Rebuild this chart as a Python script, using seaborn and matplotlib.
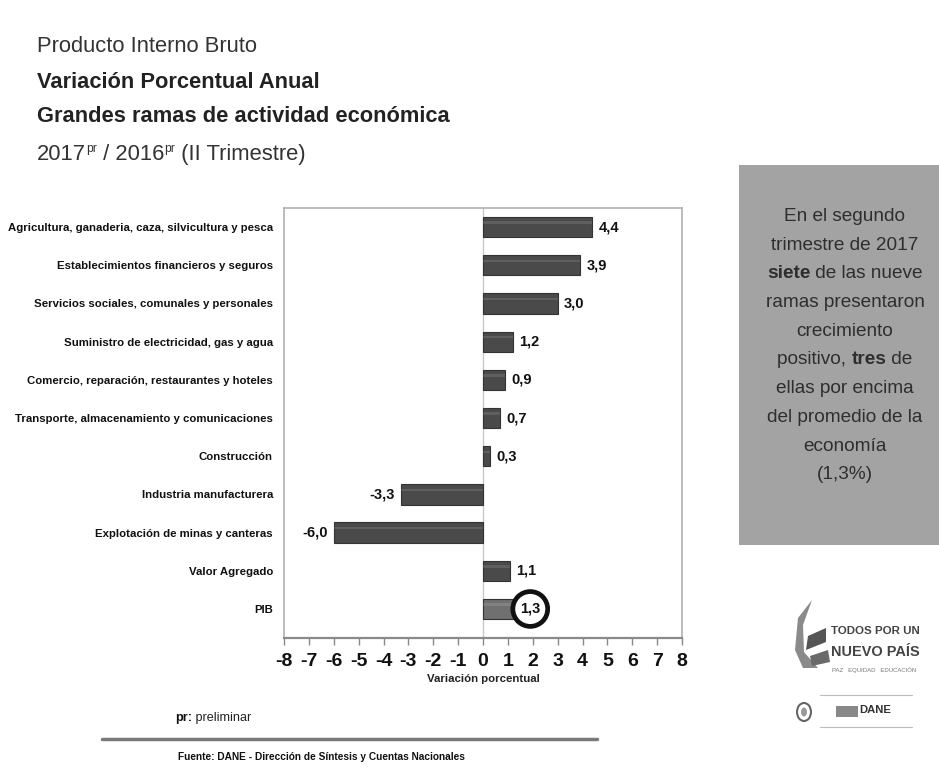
import matplotlib
matplotlib.use("Agg")
import matplotlib.pyplot as plt
from matplotlib.patches import Rectangle, Ellipse, Polygon
import seaborn as sns
import pandas as pd

# ---- data -------------------------------------------------------------
categories = [
    "Agricultura, ganaderia, caza, silvicultura y pesca",
    "Establecimientos financieros y seguros",
    "Servicios sociales, comunales y personales",
    "Suministro de electricidad, gas y agua",
    "Comercio, reparación, restaurantes y hoteles",
    "Transporte, almacenamiento y comunicaciones",
    "Construcción",
    "Industria manufacturera",
    "Explotación de minas y canteras",
    "Valor Agregado",
    "PIB",
]
values = [4.4, 3.9, 3.0, 1.2, 0.9, 0.7, 0.3, -3.3, -6.0, 1.1, 1.3]
x_ticks = list(range(-8, 9))

# ---- style ------------------------------------------------------------
sns.set_theme(style="white")
plt.rcParams["font.family"] = ["Liberation Sans", "DejaVu Sans"]

fig = plt.figure(figsize=(9.39, 7.74), dpi=100)
fig.patch.set_facecolor("white")
renderer = fig.canvas.get_renderer()

W, H = 939, 774
def fx(px):
    return px / W
def fy(py):
    return 1 - py / H

def fit_size(s, width_px, weight="normal", start=12.0):
    """Font size at which a string spans the given pixel width."""
    t = fig.text(0, 0, s, fontsize=start, fontweight=weight)
    w = t.get_window_extent(renderer).width
    t.remove()
    return start * width_px / w

# ---- bar chart --------------------------------------------------------
ax = fig.add_axes([fx(284), fy(638), fx(682) - fx(284), fy(208) - fy(638)])
df = pd.DataFrame({"rama": categories, "variacion": values})
palette = {c: "#4a4a4a" for c in categories}
palette["PIB"] = "#707070"
sns.barplot(data=df, y="rama", x="variacion", hue="rama", palette=palette,
            orient="h", width=0.53, legend=False, ax=ax,
            edgecolor="#333333", linewidth=0.8, saturation=1)

ylab_size = fit_size(categories[0], 262, "bold")
ax.set_xlim(-8, 8)
ax.set_ylim(10.76, -0.5)
ax.set_xticks(x_ticks)
ax.set_xticklabels([str(t) for t in x_ticks], fontsize=14, fontweight="bold",
                   color="#111111")
ax.set_xlabel("Variación porcentual",
              fontsize=fit_size("Variación porcentual", 112, "bold"),
              fontweight="bold", color="#222222", labelpad=3)
ax.set_ylabel("")
ax.tick_params(axis="x", direction="out", length=5, width=1, color="#888888",
               pad=6, bottom=True)
ax.tick_params(axis="y", length=0, pad=8, labelsize=ylab_size,
               labelcolor="#111111")
for lbl in ax.get_yticklabels():
    lbl.set_fontweight("bold")
for side in ("top", "left", "right"):
    ax.spines[side].set_color("#b0b0b0")
    ax.spines[side].set_linewidth(1.2)
ax.spines["bottom"].set_color("#8a8a8a")
ax.spines["bottom"].set_linewidth(1.6)
ax.axvline(0, color="#c8c8c8", lw=1, zorder=0)

# highlight band on each bar for a raised look
for patch, v in zip(ax.patches, values):
    y0 = patch.get_y()
    h = patch.get_height()
    ax.add_patch(Rectangle((min(0, v), y0 + h * 0.22), abs(v), h * 0.12,
                           facecolor="white", alpha=0.12, lw=0, zorder=3))

# value labels
for i, v in enumerate(values):
    txt = f"{v:.1f}".replace(".", ",")
    if categories[i] == "PIB":
        ax.text(1.9, i, txt, ha="center", va="center", fontsize=10.5,
                fontweight="bold", color="#111111", zorder=6,
                bbox=dict(boxstyle="circle,pad=0.5", fc="white",
                          ec="#111111", lw=3.4))
    elif v >= 0:
        ax.text(v + 0.25, i, txt, ha="left", va="center", fontsize=10.5,
                fontweight="bold", color="#111111")
    else:
        ax.text(v - 0.25, i, txt, ha="right", va="center", fontsize=10.5,
                fontweight="bold", color="#111111")

# ---- titles -----------------------------------------------------------
bold_title = fit_size("Grandes ramas de actividad económica", 410, "bold")
reg_title = fit_size("Producto Interno Bruto", 222)
fig.text(fx(37), fy(47), "Producto Interno Bruto", fontsize=reg_title,
         color="#333333", va="center")
fig.text(fx(37), fy(82), "Variación Porcentual Anual", fontsize=bold_title,
         fontweight="bold", color="#222222", va="center")
fig.text(fx(37), fy(117), "Grandes ramas de actividad económica",
         fontsize=bold_title, fontweight="bold", color="#222222", va="center")

pieces = [("2017", reg_title, 0), ("pr", reg_title * 0.55, 8),
          (" / 2016", reg_title, 0), ("pr", reg_title * 0.55, 8),
          (" (II Trimestre)", reg_title, 0)]
x = 37
for s, size, dy in pieces:
    t = fig.text(fx(x), fy(160 - dy), s, fontsize=size, color="#333333",
                 va="baseline")
    x += t.get_window_extent(renderer).width

# ---- side note box ----------------------------------------------------
fig.patches.append(Rectangle((fx(739), fy(545)), fx(939) - fx(739),
                             fy(165) - fy(545), transform=fig.transFigure,
                             facecolor="#a3a3a3", edgecolor="none", zorder=0))
note_size = fit_size("ramas presentaron", 160)
note_lines = [
    [("En el segundo", False)],
    [("trimestre de 2017", False)],
    [("siete", True), (" de las nueve", False)],
    [("ramas presentaron", False)],
    [("crecimiento", False)],
    [("positivo, ", False), ("tres", True), (" de", False)],
    [("ellas por encima", False)],
    [("del promedio de la", False)],
    [("economía", False)],
    [("(1,3%)", False)],
]
y = 221
for line in note_lines:
    ts = [fig.text(0, 0, s, fontsize=note_size, color="#2e2e2e",
                   va="baseline", fontweight="bold" if b else "normal",
                   zorder=2)
          for s, b in line]
    ws = [t.get_window_extent(renderer).width for t in ts]
    x = 845 - sum(ws) / 2
    for t, w in zip(ts, ws):
        t.set_position((fx(x), fy(y)))
        x += w
    y += 28.7

# ---- footer -----------------------------------------------------------
pr_size = fit_size("pr: preliminar", 74)
x = 175
for s, wgt, col in [("pr:", "bold", "#111111"),
                    (" preliminar", "normal", "#222222")]:
    t = fig.text(fx(x), fy(721), s, fontsize=pr_size, fontweight=wgt,
                 color=col)
    x += t.get_window_extent(renderer).width
fig.add_artist(plt.Line2D([fx(102), fx(597)], [fy(739), fy(739)],
                          color="#7a7a7a", lw=2.5))
src = "Fuente: DANE - Dirección de Síntesis y Cuentas Nacionales"
fig.text(fx(321), fy(757), src, fontsize=fit_size(src, 285, "bold"),
         fontweight="bold", color="#111111", ha="center", va="center")

# ---- logos ------------------------------------------------------------
leaf1 = Polygon([(fx(812), fy(600)), (fx(798), fy(618)), (fx(795), fy(650)),
                 (fx(803), fy(668)), (fx(818), fy(668)), (fx(804), fy(652)),
                 (fx(803), fy(625))], closed=True, transform=fig.transFigure,
                facecolor="#8a8a8a", edgecolor="none")
leaf2 = Polygon([(fx(826), fy(628)), (fx(808), fy(636)), (fx(806), fy(650)),
                 (fx(826), fy(642))], closed=True, transform=fig.transFigure,
                facecolor="#555555", edgecolor="none")
leaf3 = Polygon([(fx(828), fy(650)), (fx(810), fy(656)), (fx(812), fy(666)),
                 (fx(830), fy(662))], closed=True, transform=fig.transFigure,
                facecolor="#6a6a6a", edgecolor="none")
for p in (leaf1, leaf2, leaf3):
    fig.patches.append(p)
fig.text(fx(831), fy(631), "TODOS POR UN",
         fontsize=fit_size("TODOS POR UN", 88, "bold"), fontweight="bold",
         color="#444444", va="center")
fig.text(fx(831), fy(652), "NUEVO PAÍS",
         fontsize=fit_size("NUEVO PAÍS", 88, "bold"), fontweight="bold",
         color="#444444", va="center")
fig.text(fx(832), fy(670), "PAZ   EQUIDAD   EDUCACIÓN",
         fontsize=fit_size("PAZ   EQUIDAD   EDUCACIÓN", 84), color="#777777",
         va="center")
fig.add_artist(plt.Line2D([fx(820), fx(912)], [fy(695), fy(695)],
                          color="#bbbbbb", lw=0.8))
fig.add_artist(plt.Line2D([fx(820), fx(912)], [fy(727), fy(727)],
                          color="#bbbbbb", lw=0.8))
fig.patches.append(Ellipse((fx(804), fy(712)), fx(14), 18 / H,
                           transform=fig.transFigure, facecolor="white",
                           edgecolor="#666666", lw=1.5))
fig.patches.append(Ellipse((fx(804), fy(712)), fx(6), 9 / H,
                           transform=fig.transFigure, facecolor="#999999",
                           edgecolor="none"))
fig.patches.append(Rectangle((fx(836), fy(717)), fx(22), 11 / H,
                             transform=fig.transFigure, facecolor="#888888",
                             edgecolor="none"))
fig.text(fx(859), fy(710), "DANE", fontsize=fit_size("DANE", 32, "bold"),
         fontweight="bold", color="#333333", va="center")

fig.savefig("out.png", dpi=100, facecolor="white")
